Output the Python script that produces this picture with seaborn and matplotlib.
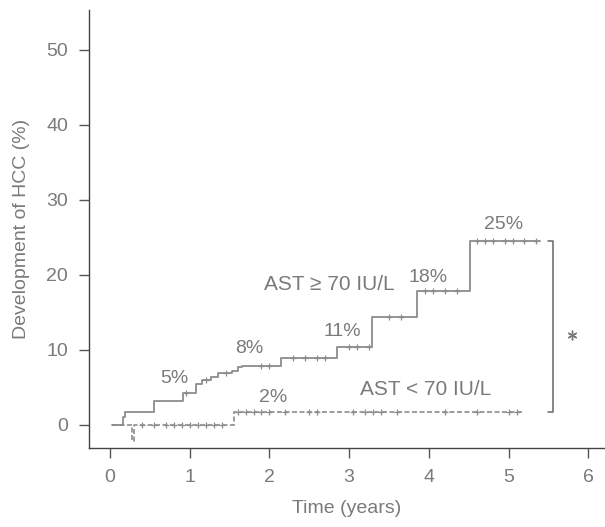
import matplotlib
matplotlib.use("Agg")
import matplotlib.pyplot as plt
import numpy as np
import pandas as pd
import seaborn as sb

# Kaplan-Meier style step curves
high_t = [0.03, 0.16, 0.19, 0.55, 0.91, 1.08, 1.15, 1.27, 1.35, 1.53, 1.60, 1.65,
          2.15, 2.85, 3.29, 3.85, 4.52, 5.40]
high_y = [0.0, 1.0, 1.7, 3.2, 4.3, 5.4, 6.0, 6.4, 6.9, 7.2, 7.7, 7.9,
          8.9, 10.4, 14.4, 17.8, 24.5, 24.5]
low_t = [0.03, 0.28, 0.30, 1.55, 5.19]
low_y = [0.0, -2.2, 0.0, 1.7, 1.7]

# censoring marks (times)
high_cens = [0.95, 1.2, 1.45, 1.9, 2.0, 2.3, 2.45, 2.6, 2.7, 3.0, 3.1, 3.25, 3.5, 3.65,
             3.95, 4.05, 4.2, 4.35, 4.6, 4.7, 4.8, 4.95, 5.05, 5.2, 5.35]
low_cens = [0.4, 0.55, 0.7, 0.8, 0.9, 1.0, 1.1, 1.2, 1.3, 1.4, 1.6, 1.7, 1.8, 1.9,
            2.0, 2.2, 2.5, 2.6, 3.05, 3.2, 3.3, 3.4, 3.6, 4.2, 4.6, 5.0, 5.1]

pct_labels = ["5%", "8%", "11%", "18%", "25%", "2%"]
pct_x = [0.81, 1.75, 2.91, 3.99, 4.94, 2.04]
pct_y = [6.2, 10.2, 12.4, 19.6, 26.7, 3.6]

LINE = "#8c8c8c"
TEXT = "#7a7a7a"


def step_val(ts, ys, t):
    i = np.searchsorted(ts, t, side="right") - 1
    return np.asarray(ys)[i]


def kaplan_plot(titlu_x="Time (years)", titlu_y="Development of HCC (%)"):
    sb.set_style("ticks")
    plt.rcParams["font.family"] = ["Liberation Sans", "DejaVu Sans"]
    fig = plt.figure(figsize=(6.05, 5.27), dpi=100)
    ax = fig.add_axes([89 / 605, 79 / 527, 516 / 605, 438 / 527])

    t_high = pd.DataFrame({"t": high_t, "y": high_y})
    t_low = pd.DataFrame({"t": low_t, "y": low_y})
    sb.lineplot(data=t_high, x="t", y="y", estimator=None, drawstyle="steps-post",
                color=LINE, lw=1.3, ax=ax)
    sb.lineplot(data=t_low, x="t", y="y", estimator=None, drawstyle="steps-post",
                color=LINE, lw=1.2, ls=(0, (3, 1.5)), ax=ax)

    c_high = pd.DataFrame({"t": high_cens, "y": step_val(high_t, high_y, high_cens)})
    c_low = pd.DataFrame({"t": low_cens, "y": step_val(low_t, low_y, low_cens)})
    sb.scatterplot(data=c_high, x="t", y="y", marker="+", s=25, color=LINE,
                   linewidth=0.9, ax=ax)
    sb.scatterplot(data=c_low, x="t", y="y", marker="+", s=25, color=LINE,
                   linewidth=0.9, ax=ax)

    # bracket + significance mark
    ax.plot([5.49, 5.56, 5.56, 5.49], [high_y[-1], high_y[-1], low_y[-1], low_y[-1]],
            color="#666666", lw=1.1)
    ax.plot([5.79], [12.0], marker=(6, 2, 0), ms=7, color=TEXT, mew=1)

    for lab, x, y in zip(pct_labels, pct_x, pct_y):
        ax.text(x, y, lab, color=TEXT, fontsize=14, ha="center", va="center")
    ax.text(2.75, 18.7, "AST \u2265 70 IU/L", color=TEXT, fontsize=15,
            ha="center", va="center")
    ax.text(3.96, 4.7, "AST < 70 IU/L", color=TEXT, fontsize=15,
            ha="center", va="center")

    ax.set_xlim(-0.264, 6.21)
    ax.set_ylim(-3.07, 55.3)
    ax.set_xticks(range(0, 7))
    ax.set_yticks(range(0, 60, 10))
    ax.set_xlabel(titlu_x, fontsize=14, color=TEXT, labelpad=10)
    ax.set_ylabel(titlu_y, fontsize=14, color=TEXT, labelpad=12)
    ax.tick_params(colors="#555555", labelcolor=TEXT, labelsize=14, length=7,
                   width=1, pad=8)
    for s in ["top", "right"]:
        ax.spines[s].set_visible(False)
    for s in ["left", "bottom"]:
        ax.spines[s].set_color("#444444")
        ax.spines[s].set_linewidth(1)
    fig.savefig("out.png", dpi=100)


kaplan_plot()
